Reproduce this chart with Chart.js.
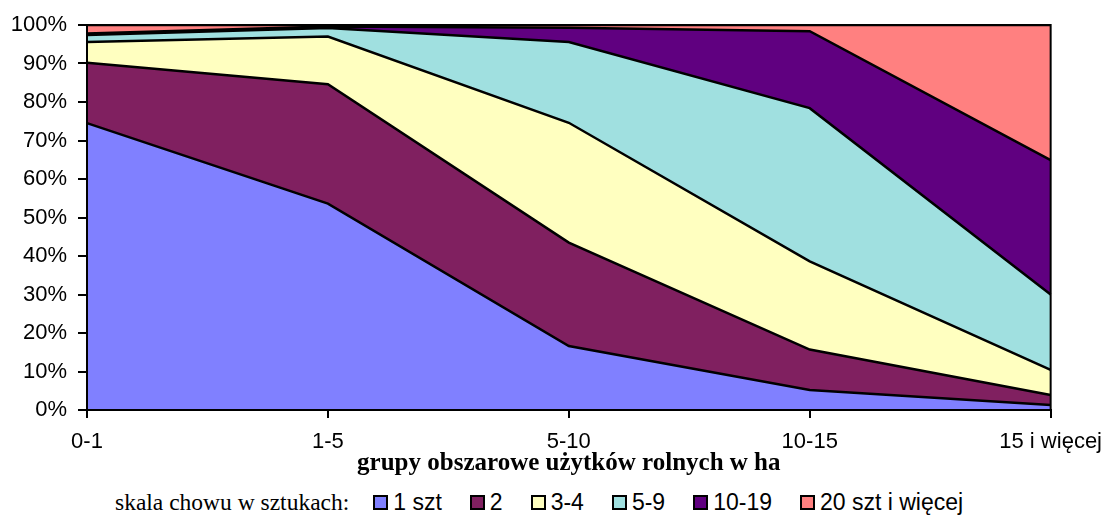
<!DOCTYPE html>
<html>
<head>
<meta charset="utf-8">
<script src="https://cdn.jsdelivr.net/npm/chart.js@4/dist/chart.umd.min.js"></script>
<style>
  html, body { margin: 0; padding: 0; background: #fff; }
  #wrap { position: relative; width: 1113px; height: 515px; }
  #c { position: absolute; left: 0; top: 0; }
  #legend { position: absolute; left: 115px; top: 488px; height: 28px; line-height: 28px; display: flex; align-items: baseline; white-space: nowrap; color: #000; }
  #legend .pre { font-family: "Liberation Serif", "Times New Roman", serif; font-size: 23.5px; margin-right: 24px; }
  #legend .item { display: flex; align-items: baseline; margin-right: 28px; font-family: "Liberation Sans", Arial, sans-serif; font-size: 23px; }
  #legend .sw { display: inline-block; width: 11px; height: 11px; border: 2px solid #000; margin-right: 5px; }
</style>
</head>
<body>
<div id="wrap">
  <canvas id="c" width="1113" height="480"></canvas>
  <div id="legend"></div>
</div>
<script>
const categories = ["0-1", "1-5", "5-10", "10-15", "15 i więcej"];
const seriesNames = ["1 szt", "2", "3-4", "5-9", "10-19", "20 szt i więcej"];
const s1szt   = [74.5, 53.6, 16.6, 5.2, 1.3];
const s2      = [15.7, 31.0, 26.9, 10.5, 2.6];
const s3_4    = [5.4, 12.4, 31.1, 22.9, 6.5];
const s5_9    = [1.8, 2.2, 21.0, 39.8, 19.6];
const s10_19  = [0.4, 0.4, 3.7, 20.0, 34.9];
const s20plus = [2.2, 0.4, 0.7, 1.6, 35.1];
const seriesValues = [s1szt, s2, s3_4, s5_9, s10_19, s20plus];
const seriesColors = ["#8080FF", "#802060", "#FFFFC0", "#A0E0E0", "#600080", "#FF8080"];
const yTickValues = [0, 10, 20, 30, 40, 50, 60, 70, 80, 90, 100];
const legendPrefix = "skala chowu w sztukach:";
const xTitle = "grupy obszarowe użytków rolnych w ha";

const SANS = "'Liberation Sans', Arial, sans-serif";
const SERIF = "'Liberation Serif', 'Times New Roman', serif";

const datasets = seriesNames.map((name, i) => ({
  label: name,
  data: seriesValues[i],
  backgroundColor: seriesColors[i],
  borderColor: "#000",
  borderWidth: 2.5,
  pointRadius: 0,
  pointHoverRadius: 0,
  tension: 0,
  fill: i === 0 ? "origin" : "-1"
}));

const frame = {
  id: "frame",
  afterDatasetsDraw(chart) {
    const a = chart.chartArea, ctx = chart.ctx;
    ctx.save();
    ctx.strokeStyle = "#000";
    ctx.lineWidth = 2;
    ctx.strokeRect(a.left, a.top, a.right - a.left, a.bottom - a.top);
    ctx.restore();
  }
};

new Chart(document.getElementById("c"), {
  type: "line",
  data: { labels: categories, datasets },
  options: {
    responsive: false,
    animation: false,
    layout: { padding: { top: 25, right: 57, bottom: 0, left: 0 } },
    plugins: { legend: { display: false }, tooltip: { enabled: false } },
    scales: {
      x: {
        offset: false,
        grid: { display: true, drawOnChartArea: false, drawTicks: true, tickLength: 8, color: "#000", lineWidth: 2 },
        border: { display: true, color: "#000", width: 2 },
        ticks: { color: "#000", font: { family: SANS, size: 22 }, padding: 11, maxRotation: 0, autoSkip: false },
        title: { display: true, text: xTitle, color: "#000", font: { family: SERIF, size: 25, weight: "bold" }, padding: { top: 0, bottom: 1 } },
        afterFit(scale) { scale.height = 70; }
      },
      y: {
        stacked: true,
        min: 0,
        max: 100,
        afterBuildTicks(scale) { scale.ticks = yTickValues.map(v => ({ value: v })); },
        grid: { display: true, drawOnChartArea: false, drawTicks: true, tickLength: 9, color: "#000", lineWidth: 2 },
        border: { display: true, color: "#000", width: 2 },
        ticks: { color: "#000", font: { family: SANS, size: 22 }, padding: 11, callback: v => v + "%" },
        afterFit(scale) { scale.width = 87; }
      }
    }
  },
  plugins: [frame]
});

const lg = document.getElementById("legend");
const pre = document.createElement("span");
pre.className = "pre";
pre.textContent = legendPrefix;
lg.appendChild(pre);
seriesNames.forEach((name, i) => {
  const it = document.createElement("span");
  it.className = "item";
  const sw = document.createElement("span");
  sw.className = "sw";
  sw.style.background = seriesColors[i];
  const tx = document.createElement("span");
  tx.textContent = name;
  it.appendChild(sw);
  it.appendChild(tx);
  lg.appendChild(it);
});
</script>
</body>
</html>
